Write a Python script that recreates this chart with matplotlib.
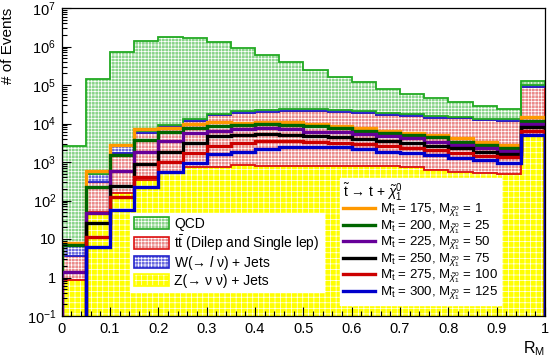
import matplotlib
matplotlib.use("Agg")
import matplotlib.pyplot as plt
from matplotlib.patches import Patch
from matplotlib.lines import Line2D
from matplotlib.ticker import FixedLocator, LogLocator, NullFormatter
import numpy as np

plt.rcParams["font.family"] = ["Liberation Sans", "DejaVu Sans"]
plt.rcParams["mathtext.fontset"] = "custom"
plt.rcParams["mathtext.rm"] = "Liberation Sans"
plt.rcParams["mathtext.it"] = "Liberation Sans:italic"
plt.rcParams["hatch.linewidth"] = 0.5

# binning of R_M
edges = np.linspace(0, 1, 21)

# background stack, bottom to top
z_jets = [0.86, 51, 155, 340, 550, 740, 760, 830, 810, 810, 810, 800, 790,
          790, 740, 620, 550, 515, 490, 4750]
ttbar = [2.7, 250, 1550, 5400, 7900, 11000, 15400, 18100, 19000, 20800,
         20300, 19000, 17700, 16300, 15300, 13600, 13000, 11600, 11100, 85000]
w_jets = [3.8, 190, 900, 700, 900, 1300, 1800, 2100, 2200, 2400, 2350, 2200,
          2050, 1900, 1800, 1600, 1500, 1350, 1300, 10000]
qcd = [2600, 1.4e5, 7e5, 1.39e6, 1.79e6, 1.69e6, 1.28e6, 8.8e5, 5.8e5,
       3.66e5, 2.2e5, 1.38e5, 9.95e4, 6.2e4, 4.1e4, 3.1e4, 2.1e4, 1.45e4,
       1.1e4, 3e4]

# signal points (stop mass, neutralino mass)
sig_masses = [(175, 1), (200, 25), (225, 50), (250, 75), (275, 100), (300, 125)]
sig_175 = [8, 590, 2750, 7200, 7600, 9800, 11200, 10500, 11200, 11000, 9800,
           8700, 7600, 6500, 5800, 5000, 4100, 3400, 2800, 15000]
sig_200 = [7, 220, 1500, 3700, 6100, 7600, 8700, 9200, 9800, 9200, 8400,
           7600, 6500, 5800, 5000, 4400, 3400, 2800, 2300, 11700]
sig_225 = [1.4, 47, 590, 1850, 3550, 5600, 6500, 7100, 7600, 7000, 6100,
           5900, 5400, 4600, 4150, 3400, 2800, 2300, 1960, 9800]
sig_250 = [0, 26, 240, 890, 1850, 3100, 4800, 5000, 5200, 5000, 4800, 4400,
           3900, 3550, 3150, 2650, 2300, 1870, 1620, 7900]
sig_275 = [0, 11, 120, 415, 1020, 1730, 2600, 3100, 3550, 3550, 3400, 3180,
           2940, 2600, 2350, 2050, 1680, 1440, 1330, 6400]
sig_300 = [0, 6.3, 56, 230, 560, 950, 1580, 1850, 2230, 2500, 2500, 2420,
           2130, 1850, 1740, 1520, 1250, 1130, 960, 5000]

# (values, fill colour, line colour, hatch, legend label)
bkg = [
    (z_jets, "#ffff00", "#ffff00", "+++", "Z(→ ν ν) + Jets"),
    (ttbar, "#ea8a8a", "#dd1111", "+++++",
     r"t$\bar{\rm t}$ (Dilep and Single lep)"),
    (w_jets, "#6a6ae0", "#2222cc", "+++++", r"W(→ $\it{l}$ ν) + Jets"),
    (qcd, "#8ad48a", "#22aa22", "+++++", "QCD"),
]
legend_order = [3, 1, 2, 0]
sig_values = [sig_175, sig_200, sig_225, sig_250, sig_275, sig_300]
sig_colors = ["#ff9900", "#006600", "#660099", "#000000", "#cc0000", "#0000cc"]

fig = plt.figure(figsize=(5.5, 3.6), dpi=100)
ax = fig.add_axes([61.7 / 550, 44 / 360, 483.3 / 550, 308 / 360])
ax.set_yscale("log", nonpositive="clip")

# stacked backgrounds
base = np.zeros(20)
for vals, face, line, hatch, label in bkg:
    top = base + np.array(vals)
    ax.stairs(top, edges, baseline=base, fill=True, facecolor=face,
              edgecolor="white", hatch=hatch, linewidth=0)
    ax.stairs(top, edges, baseline=base, color=line, linewidth=1.3)
    base = top

for vals, c in zip(sig_values, sig_colors):
    ax.stairs(vals, edges, baseline=0, color=c, linewidth=2.4)

ax.set_xlim(0, 1)
ax.set_ylim(0.1, 1e7)

ax.xaxis.set_major_locator(FixedLocator(np.arange(0, 1.01, 0.1)))
ax.xaxis.set_minor_locator(FixedLocator(np.arange(0, 1.001, 0.02)))
ax.set_xticklabels(["0", "0.1", "0.2", "0.3", "0.4", "0.5", "0.6", "0.7",
                    "0.8", "0.9", "1"])
yt = [0.1, 1, 10, 1e2, 1e3, 1e4, 1e5, 1e6, 1e7]
ax.set_yticks(yt)
ax.set_yticklabels([r"$10^{-1}$", "1", "10", r"$10^{2}$", r"$10^{3}$",
                    r"$10^{4}$", r"$10^{5}$", r"$10^{6}$", r"$10^{7}$"])
ax.yaxis.set_minor_locator(LogLocator(base=10, subs=np.arange(2, 10)))
ax.yaxis.set_minor_formatter(NullFormatter())
ax.tick_params(which="both", direction="in", labelsize=10.5, top=False,
               right=False, width=0.8)
ax.tick_params(which="major", length=6.5, pad=4)
ax.tick_params(which="minor", length=3.3)
for sp in ax.spines.values():
    sp.set_linewidth(0.9)

ax.set_ylabel("# of Events", fontsize=11, loc="top")
ax.yaxis.set_label_coords(-0.097, 1.0)
ax.set_xlabel(r"R$_{\rm M}$", fontsize=11.5, loc="right")
ax.xaxis.set_label_coords(1.0, -0.075)

# background legend
bkg_handles = []
bkg_labels = []
for i in legend_order:
    _, face, line, hatch, label = bkg[i]
    bkg_handles.append((Patch(facecolor=face, edgecolor="white", hatch=hatch,
                              linewidth=0),
                        Patch(fill=False, edgecolor=line, linewidth=1.2)))
    bkg_labels.append(label)
leg1 = ax.legend(bkg_handles, bkg_labels, loc="upper left",
                 bbox_to_anchor=(130 / 550, 1 - 213 / 360),
                 bbox_transform=fig.transFigure, fontsize=10,
                 frameon=True, fancybox=False, framealpha=1,
                 edgecolor="white", borderpad=0.3, labelspacing=0.12,
                 handlelength=2.5, handleheight=0.95, handletextpad=0.4,
                 borderaxespad=0)
ax.add_artist(leg1)

sig_handles = [Line2D([], [], color=c, linewidth=2.4) for c in sig_colors]
sig_labels = [r"M$_{\tilde{\rm t}}$ = %d, M$_{\tilde{\chi}^{0}_{1}}$ = %d"
              % (ms, mn) for ms, mn in sig_masses]
leg2 = ax.legend(sig_handles, sig_labels, loc="upper left",
                 bbox_to_anchor=(340 / 550, 1 - 178 / 360),
                 bbox_transform=fig.transFigure, fontsize=9.5,
                 title=r"$\tilde{\rm t}$ → t + $\tilde{\chi}^{0}_{1}$",
                 title_fontsize=10, alignment="left",
                 frameon=True, fancybox=False, framealpha=1,
                 edgecolor="white", borderpad=0.25, labelspacing=-0.08,
                 handlelength=2.4, handletextpad=0.4, borderaxespad=0)

fig.savefig("out.png", dpi=100)
